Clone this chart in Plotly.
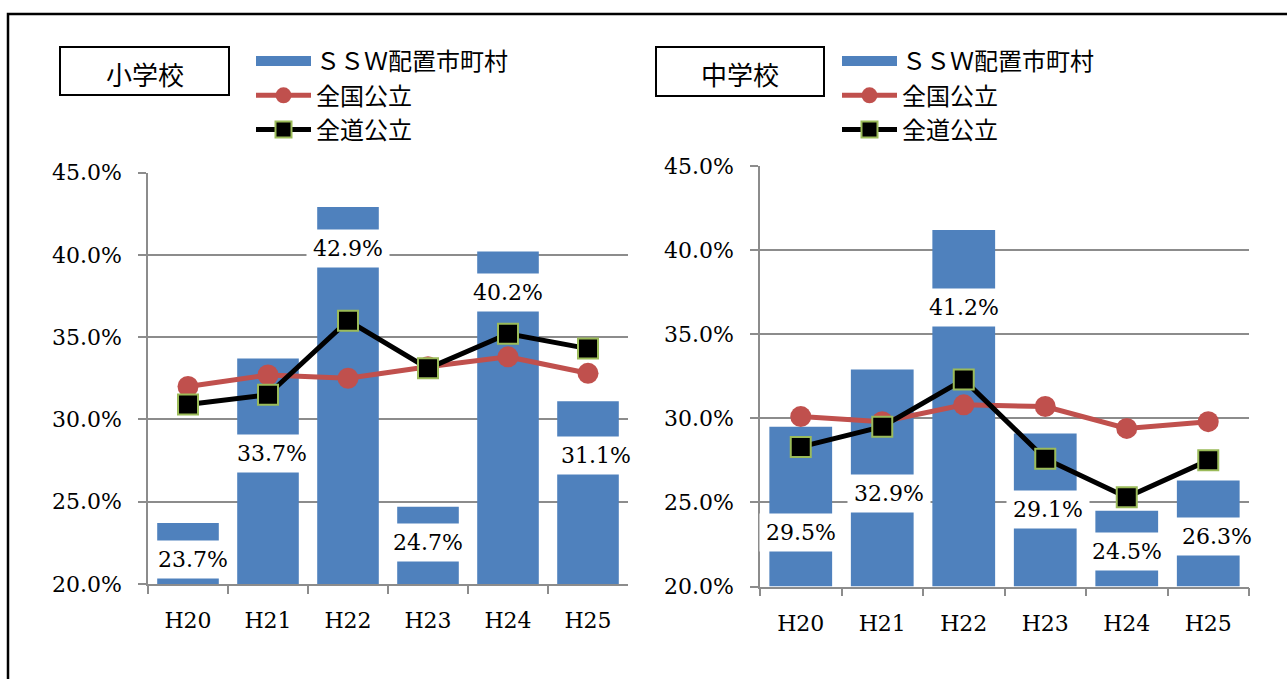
import plotly.graph_objects as go

W, H = 1287, 679

categories = ["H20", "H21", "H22", "H23", "H24", "H25"]

# 小学校
elem_ssw = [23.7, 33.7, 42.9, 24.7, 40.2, 31.1]
elem_nation = [32.0, 32.7, 32.5, 33.2, 33.8, 32.8]
elem_hokkaido = [30.9, 31.5, 36.0, 33.1, 35.2, 34.3]
elem_label_y = [21.5, 27.9, 40.4, 22.5, 37.7, 27.8]
elem_label_dx = [5, 4, 0, 0, 0, 8]

# 中学校
jh_ssw = [29.5, 32.9, 41.2, 29.1, 24.5, 26.3]
jh_nation = [30.1, 29.8, 30.8, 30.7, 29.4, 29.8]
jh_hokkaido = [28.3, 29.5, 32.3, 27.6, 25.3, 27.5]
jh_label_y = [23.2, 25.5, 36.6, 24.6, 22.1, 23.0]
jh_label_dx = [0, 7, 0, 3, 0, 9]

names = ["ＳＳＷ配置市町村", "全国公立", "全道公立"]
titles = ["小学校", "中学校"]

BLUE = "#4F81BD"
RED = "#C0504D"
GREEN = "#9BBB59"
GRID = "#8C8C8C"
SERIF = "DejaVu Serif"
JP = "Noto Sans CJK JP"

fig = go.Figure()


def add_panel(xa, ya, legend, ssw, nat, hok, grp):
    # legend swatch for bars (wide rectangle like the original)
    fig.add_trace(go.Scatter(x=[None], y=[None], mode="lines", name=names[0],
                             line=dict(color=BLUE, width=14), legendgroup=grp,
                             legend=legend, xaxis=xa, yaxis=ya, hoverinfo="skip"))
    fig.add_trace(go.Bar(x=categories, y=[v - 20 for v in ssw], base=20, name=names[0],
                         marker=dict(color=BLUE, line=dict(width=0)),
                         width=0.77, showlegend=False, legendgroup=grp,
                         xaxis=xa, yaxis=ya, customdata=ssw,
                         hovertemplate="%{x}: %{customdata:.1f}%<extra></extra>"))
    fig.add_trace(go.Scatter(x=categories, y=nat, mode="lines+markers", name=names[1],
                             line=dict(color=RED, width=5),
                             marker=dict(symbol="circle", size=21, color=RED),
                             legend=legend, xaxis=xa, yaxis=ya))
    fig.add_trace(go.Scatter(x=categories, y=hok, mode="lines+markers", name=names[2],
                             line=dict(color="black", width=5),
                             marker=dict(symbol="square", size=20, color="black",
                                         line=dict(color=GREEN, width=2)),
                             legend=legend, xaxis=xa, yaxis=ya))


add_panel("x", "y", "legend", elem_ssw, elem_nation, elem_hokkaido, "e")
add_panel("x2", "y2", "legend2", jh_ssw, jh_nation, jh_hokkaido, "j")

yax = dict(range=[20, 45], dtick=5, tick0=20, tickformat=".1f", ticksuffix="%",
           showgrid=True, gridcolor=GRID, gridwidth=1.5, showline=True, linecolor=GRID,
           linewidth=1.5, ticks="outside", ticklen=8, tickcolor=GRID, tickwidth=1.5,
           tickfont=dict(family=SERIF, size=22, color="black"), zeroline=False,
           ticklabelstandoff=12, fixedrange=True, automargin=False)
xax = dict(type="category", range=[-0.5, 5.5], showgrid=False, showline=True,
           linecolor=GRID, linewidth=1.5, ticks="outside", tickson="boundaries",
           ticklen=8, tickcolor=GRID, tickwidth=1.5,
           tickfont=dict(family=SERIF, size=22, color="black"),
           ticklabelstandoff=16, fixedrange=True, automargin=False)

fig.update_layout(
    width=W, height=H,
    margin=dict(l=0, r=0, t=0, b=0, pad=0, autoexpand=False),
    paper_bgcolor="white", plot_bgcolor="white",
    showlegend=True,
    xaxis=dict(xax, domain=[148 / W, 628 / W], anchor="y"),
    yaxis=dict(yax, domain=[1 - 584 / H, 1 - 172.5 / H], anchor="x"),
    xaxis2=dict(xax, domain=[760 / W, 1249 / W], anchor="y2"),
    yaxis2=dict(yax, domain=[1 - 586.5 / H, 1 - 166 / H], anchor="x2"),
    legend=dict(x=251 / W, y=1 - 39 / H, xanchor="left", yanchor="top",
                font=dict(family=JP, size=24, color="black"), itemwidth=55,
                bgcolor="rgba(0,0,0,0)", tracegroupgap=0),
    legend2=dict(x=837 / W, y=1 - 39 / H, xanchor="left", yanchor="top",
                 font=dict(family=JP, size=24, color="black"), itemwidth=55,
                 bgcolor="rgba(0,0,0,0)", tracegroupgap=0),
)

shapes = [
    dict(type="rect", xref="paper", yref="paper", x0=8 / W, x1=1.05, y0=-0.05, y1=1 - 14 / H,
         line=dict(color="black", width=2.5), layer="below"),
    dict(type="rect", xref="paper", yref="paper", x0=60 / W, x1=229 / W,
         y0=1 - 95 / H, y1=1 - 47 / H, line=dict(color="black", width=2)),
    dict(type="rect", xref="paper", yref="paper", x0=656 / W, x1=824 / W,
         y0=1 - 96 / H, y1=1 - 47 / H, line=dict(color="black", width=2)),
]
fig.update_layout(shapes=shapes)

annotations = [
    dict(xref="paper", yref="paper", x=145 / W, y=1 - 73 / H, text=titles[0],
         xanchor="center", yanchor="middle",
         showarrow=False, font=dict(family=JP, size=26, color="black")),
    dict(xref="paper", yref="paper", x=740 / W, y=1 - 73 / H, text=titles[1],
         xanchor="center", yanchor="middle",
         showarrow=False, font=dict(family=JP, size=26, color="black")),
]
for xr, yr, vals, ly, dx in [("x", "y", elem_ssw, elem_label_y, elem_label_dx),
                             ("x2", "y2", jh_ssw, jh_label_y, jh_label_dx)]:
    for c, v, yy, d in zip(categories, vals, ly, dx):
        annotations.append(dict(xref=xr, yref=yr, x=c, y=yy, xshift=d,
                                xanchor="center", yanchor="middle",
                                text=f"{v:.1f}%", showarrow=False, bgcolor="white",
                                borderpad=6,
                                font=dict(family=SERIF, size=22, color="black")))
fig.update_layout(annotations=annotations)

fig.write_html("out.html", config={"displayModeBar": False},
               post_script="document.body.style.margin='0px';document.body.style.overflow='hidden';")
